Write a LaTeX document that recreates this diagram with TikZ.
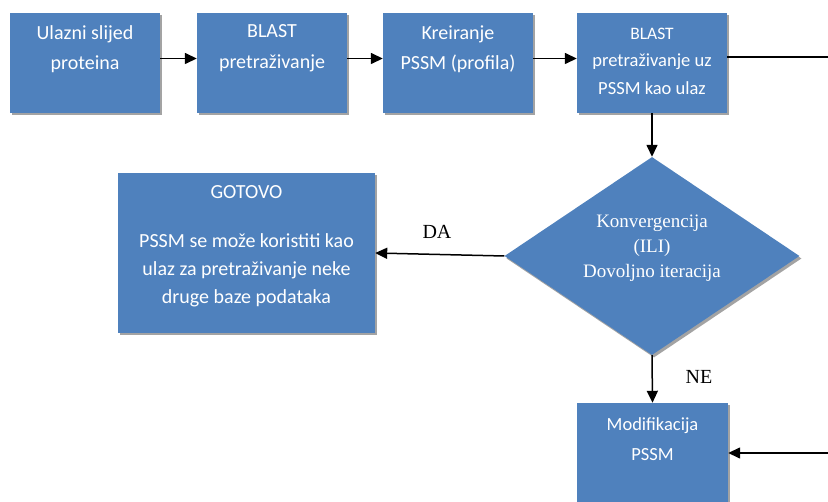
\documentclass[tikz,border=0pt]{standalone}
\usepackage{fontspec}
\setmainfont{Liberation Serif}
\newfontfamily\boxfont{Carlito}
\usetikzlibrary{shapes.geometric,arrows.meta,shadows}
\definecolor{boxblue}{RGB}{79,129,189}
\begin{document}
\begin{tikzpicture}[x=1pt,y=-1pt,
  blk/.style={draw=none, fill=boxblue, inner sep=0pt,
    drop shadow={shadow xshift=2pt, shadow yshift=-2.5pt, fill=black!45, opacity=0.8}},
  topbox/.style={blk, minimum width=150pt, minimum height=100pt},
  boxtxt/.style={text=white, align=center, inner sep=0pt},
  flow/.style={line width=1.5pt, -{Triangle[length=12pt,width=11pt]}},
  plain/.style={line width=1.5pt},
  answer/.style={font=\fontsize{20}{22}\selectfont, inner sep=0pt}]
\useasboundingbox (0,0) rectangle (828,502);

% top row
\node[topbox] (b1) at (85,63) {};
\node[topbox] (b2) at (272,63) {};
\node[topbox] (b3) at (458,63) {};
\node[topbox] (b4) at (652,63) {};

\node[boxtxt, font=\boxfont\fontsize{20}{30}\selectfont] (t1) at (85,49)
  {Ulazni slijed\\proteina};
\node[boxtxt, font=\boxfont\fontsize{20}{31}\selectfont] (t2) at (272,48.5)
  {BLAST\\pretraživanje};
\node[boxtxt, font=\boxfont\fontsize{20}{30}\selectfont] (t3) at (458,49)
  {Kreiranje\\PSSM (profila)};
\node[boxtxt, font=\boxfont\fontsize{18.5}{27.5}\selectfont] (t4) at (652,61)
  {{\fontsize{17.5}{27.5}\selectfont BLAST}\\pretraživanje uz\\PSSM kao ulaz};

% decision
\node[blk, diamond, minimum width=295pt, minimum height=198pt] (dec) at (652,256) {};
\node[boxtxt, font=\fontsize{19}{25}\selectfont] (tdec) at (652,248)
  {Konvergencija\\(ILI)\\Dovoljno iteracija};

% finished
\node[blk, minimum width=257pt, minimum height=160pt] (done) at (246.5,253) {};
\node[boxtxt, font=\boxfont\fontsize{20}{28}\selectfont] (tdone) at (246.5,246.5)
  {GOTOVO\\[21pt]PSSM se može koristiti kao\\ulaz za pretraživanje neke\\druge baze podataka};

% modification
\node[blk, minimum width=151pt, minimum height=100pt] (mod) at (652.5,453) {};
\node[boxtxt, font=\boxfont\fontsize{18.5}{30}\selectfont] (tmod) at (652.5,439)
  {Modifikacija\\PSSM};

% loop ends at the right border
\coordinate (loopA) at (828,57);
\coordinate (loopB) at (828,453);

% connectors
\draw[flow] ([yshift=4.5pt]b1.east) -- ([yshift=4.5pt]b2.west);
\draw[flow] ([yshift=4.5pt]b2.east) -- ([yshift=4.5pt]b3.west);
\draw[flow] ([yshift=4.5pt]b3.east) -- ([yshift=4.5pt]b4.west);
\draw[plain] ([yshift=6pt]b4.east) -- (loopA);
\draw[flow] (b4.south) -- (dec.north);
\draw[flow] (dec.west) -- (done.east);
\draw[flow] (dec.south) -- (mod.north);
\draw[flow] (loopB) -- (mod.east);

% answers
\node[answer] (da) at (437,232) {DA};
\node[answer] (ne) at (699,377) {NE};
\end{tikzpicture}
\end{document}
